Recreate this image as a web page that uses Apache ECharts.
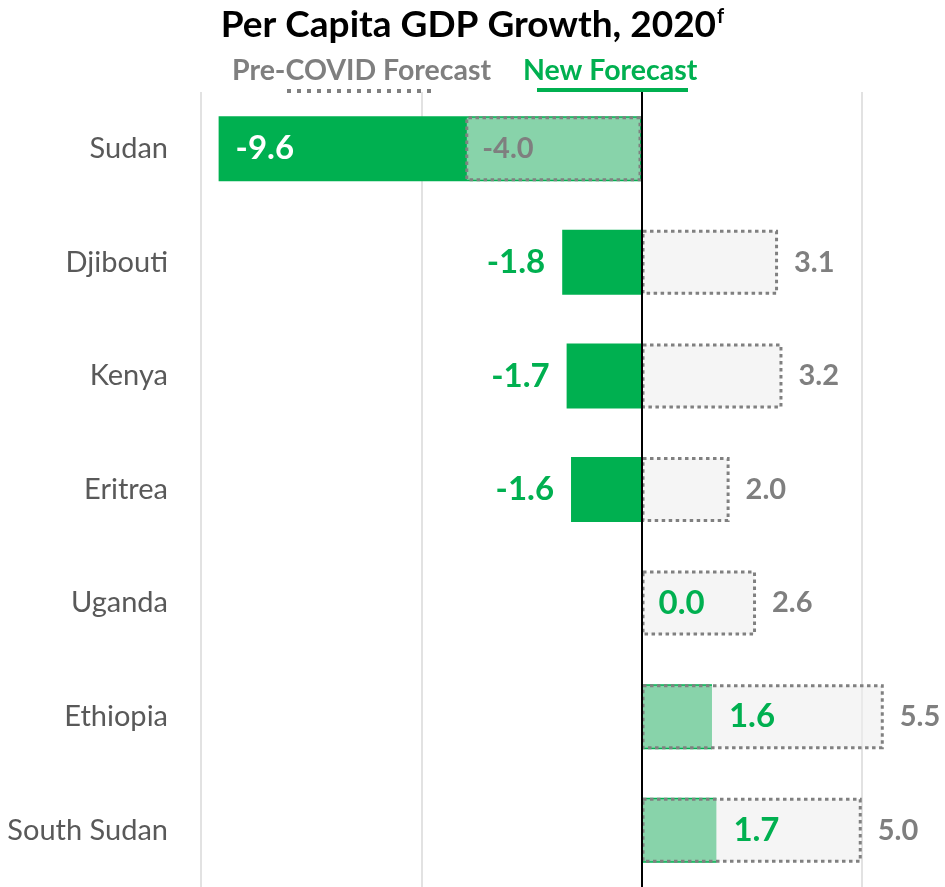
<!DOCTYPE html>
<html>
<head>
<meta charset="utf-8">
<script src="https://cdn.jsdelivr.net/npm/echarts@6/dist/echarts.min.js"></script>
<style>
  html, body { margin: 0; padding: 0; background: #ffffff; }
  #chart { width: 945px; height: 887px; }
</style>
</head>
<body>
<div id="chart"></div>
<script>
// Per capita GDP growth forecasts for 2020, East Africa
const countries   = ['Sudan', 'Djibouti', 'Kenya', 'Eritrea', 'Uganda', 'Ethiopia', 'South Sudan'];
const preCovid    = [-4.0, 3.1, 3.2, 2.0, 2.6, 5.5, 5.0];
const newForecast = [-9.6, -1.8, -1.7, -1.6, 0.0, 1.6, 1.7];

// value axis range; gridlines every 5 points
const axisMin = -10;
const axisMax = 10;
const axisStep = 5;

const FONT = 'Lato, "Open Sans", sans-serif';
const GREEN = '#00b050';
const GREY = '#7f7f7f';

// label placement for the new forecast bars
function newLabel(v) {
  if (v <= -5) {
    return { position: 'insideLeft', distance: 17, color: '#ffffff' };
  }
  return { position: v < 0 ? 'left' : 'right', distance: 17, color: GREEN };
}

// label placement for the pre-COVID bars
function preLabel(v) {
  if (v < 0) {
    return { position: 'insideLeft', distance: 17, color: GREY };
  }
  return { position: 'right', distance: 16, color: GREY };
}

const chart = echarts.init(document.getElementById('chart'), null, { renderer: 'canvas' });

chart.setOption({
  animation: false,
  backgroundColor: '#ffffff',
  title: {
    text: '{t|Per Capita GDP Growth, 2020}{s|f}',
    left: 'center',
    top: 2,
    textStyle: {
      rich: {
        t: { fontFamily: FONT, fontSize: 37, fontWeight: 'bold', color: '#000000' },
        s: { fontFamily: FONT, fontSize: 20, fontWeight: 'bold', color: '#000000', padding: [0, 0, 17, 1] }
      }
    }
  },
  graphic: [
    {
      type: 'text', left: 232, top: 56,
      style: { text: 'Pre-COVID Forecast', font: 'bold 28.5px ' + FONT, fill: GREY }
    },
    {
      type: 'line',
      shape: { x1: 287, y1: 91, x2: 434, y2: 91 },
      style: { stroke: GREY, lineWidth: 4, lineDash: [4, 6] }
    },
    {
      type: 'text', left: 523, top: 56,
      style: { text: 'New Forecast', font: 'bold 28.5px ' + FONT, fill: GREEN }
    },
    {
      type: 'line',
      shape: { x1: 537, y1: 90, x2: 688, y2: 90 },
      style: { stroke: GREEN, lineWidth: 4 }
    }
  ],
  grid: { left: 201, right: -137, top: 92, bottom: 0, outerBoundsMode: 'none' },
  xAxis: {
    type: 'value',
    min: axisMin,
    max: axisMax,
    interval: axisStep,
    axisLabel: { show: false },
    axisLine: { show: false },
    axisTick: { show: false },
    splitLine: { lineStyle: { color: '#d9d9d9', width: 1.5 } }
  },
  yAxis: {
    type: 'category',
    data: countries,
    inverse: true,
    axisLine: { show: false },
    axisTick: { show: false },
    axisLabel: { margin: 33, fontFamily: FONT, fontSize: 29, color: '#595959' }
  },
  series: [
    {
      name: 'New Forecast',
      type: 'bar',
      barWidth: 65,
      itemStyle: { color: GREEN },
      label: {
        show: true,
        fontFamily: FONT,
        fontSize: 33,
        fontWeight: 'bold',
        formatter: p => p.value.toFixed(1)
      },
      data: newForecast.map(v => ({ value: v, label: newLabel(v) }))
    },
    {
      name: 'Pre-COVID Forecast',
      type: 'bar',
      barWidth: 65,
      barGap: '-100%',
      itemStyle: {
        color: 'rgba(237,237,237,0.573)',
        borderColor: '#808080',
        borderWidth: 3,
        borderType: [3.5, 3.5]
      },
      label: {
        show: true,
        fontFamily: FONT,
        fontSize: 29,
        fontWeight: 'bold',
        formatter: p => p.value.toFixed(1)
      },
      data: preCovid.map(v => ({ value: v, label: preLabel(v) })),
      markLine: {
        silent: true,
        symbol: 'none',
        label: { show: false },
        lineStyle: { color: '#000000', width: 2, type: 'solid' },
        data: [{ xAxis: 0 }]
      }
    }
  ]
});
</script>
</body>
</html>
